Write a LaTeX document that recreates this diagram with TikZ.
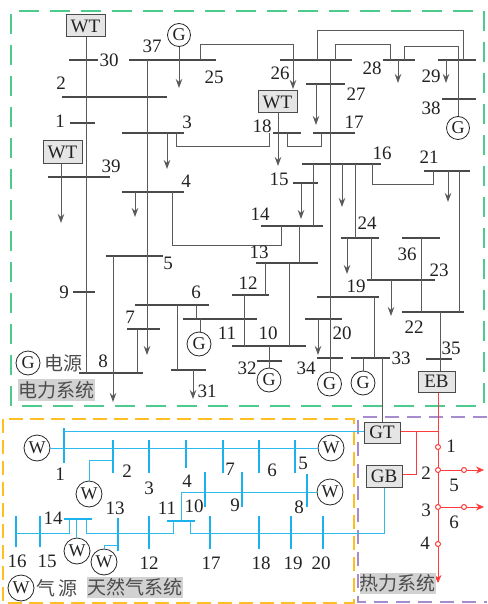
\documentclass[tikz,border=0pt]{standalone}
\usepackage{fontspec}
\setmainfont{Liberation Serif}
\newfontfamily\cjkfont{Noto Sans CJK SC}
\usetikzlibrary{arrows.meta}
\definecolor{linegray}{HTML}{5A5A5A}
\definecolor{busgray}{HTML}{4A4A4A}
\definecolor{txt}{HTML}{222222}
\definecolor{gasblue}{HTML}{1BB2EC}
\definecolor{gasthin}{HTML}{2FBAEE}
\definecolor{heatred}{HTML}{FF3B3B}
\definecolor{frgreen}{HTML}{4CCB8C}
\definecolor{fryellow}{HTML}{FFBE22}
\definecolor{frpurple}{HTML}{A68CCF}
\tikzset{
  conn/.style={draw=linegray,line width=1pt},
  load/.style={conn,-{Stealth[length=9pt,width=6.5pt]}},
  hb/.style={rectangle,fill=busgray,inner sep=0pt,minimum height=2pt},
  vb/.style={rectangle,fill=gasblue,inner sep=0pt,minimum width=2.2pt},
  gasl/.style={draw=gasthin,line width=1pt},
  heat/.style={draw=heatred,line width=1pt},
  heatarr/.style={heat,-{Stealth[length=8pt,width=7pt]}},
  lb/.style={text=txt,font=\fontsize{19}{19}\selectfont,inner sep=0pt},
  unitbox/.style={draw=busgray,fill=gray!20,line width=1pt,inner sep=0pt,text=txt,font=\fontsize{19}{19}\selectfont},
  src/.style={circle,draw=black!85,fill=white,line width=.8pt,inner sep=0pt,text=txt,font=\fontsize{18}{18}\selectfont},
  hn/.style={circle,draw=heatred,fill=white,line width=1pt,inner sep=0pt,minimum size=5pt},
  tag/.style={fill=gray!35,inner sep=0pt,text=black!70,font=\cjkfont\fontsize{19}{19}\selectfont},
  ctxt/.style={inner sep=0pt,text=black!70,font=\cjkfont\fontsize{19}{19}\selectfont},
  frame/.style={line width=2pt},
}
\newcommand{\hbus}[4]{\node[hb,minimum width=#3pt-#2pt] (#1) at ({(#2+#3)/2},#4) {};}
\newcommand{\vbus}[4]{\node[vb,minimum height=#4pt-#3pt] (#1) at (#2,{(#3+#4)/2}) {};}
\newcommand{\tie}[3]{\draw[conn] (#1,0 |- #2) -- (#1,0 |- #3);}
\newcommand{\drop}[3]{\draw[load] (#1,0 |- #2) -- (#1,#3);}
\begin{document}
\begin{tikzpicture}[x=1pt,y=-1pt]
\useasboundingbox (0,0) rectangle (487,604);
% frames
\draw[frame,draw=frgreen,dash pattern=on 20pt off 11pt] (11,406) -- (11,11) -- (484,11) -- (484,406) -- cycle;
\draw[frame,draw=frpurple,dash pattern=on 14pt off 8pt] (487,417) -- (358,417) -- (358,602) -- (487,602);
\draw[frame,draw=fryellow,dash pattern=on 14pt off 7pt] (3,419) rectangle (354,603);
% power buses
\hbus{b30}{69}{98}{60} \hbus{b37}{129}{216}{60} \hbus{b26}{280}{352}{60}
\hbus{b28}{383}{415}{60} \hbus{b29}{438}{476}{60} \hbus{b2}{62}{167}{97}
\hbus{b1}{70}{95}{123} \hbus{b3}{122}{184}{133} \hbus{b39}{48}{110}{177}
\hbus{b4}{122}{184}{192} \hbus{b5}{106}{163}{256} \hbus{b9}{73}{95}{292}
\hbus{b6}{135}{209}{305} \hbus{b31}{171}{206}{370} \hbus{b7}{127}{160}{329}
\hbus{b8}{79}{143}{373} \hbus{b11}{183}{257}{319} \hbus{b12}{232}{269}{295}
\hbus{b10}{232}{306}{346} \hbus{b13}{256}{318}{263} \hbus{b14}{261}{323}{226}
\hbus{b32}{257}{282}{361} \hbus{b19top}{317}{379}{297} \hbus{b19}{367}{435}{280}
\hbus{b20}{305}{342}{319} \hbus{b34}{317}{343}{358} \hbus{b33}{351}{390}{358}
\hbus{b24}{341}{379}{238} \hbus{b16}{302}{381}{164} \hbus{b15}{293}{318}{183}
\hbus{b18}{273}{301}{133} \hbus{b17}{313}{355}{133} \hbus{b27}{306}{345}{84}
\hbus{b38}{442}{476}{99} \hbus{b21}{424}{470}{171} \hbus{b22}{402}{464}{312}
\hbus{b36}{402}{440}{238} \hbus{b35}{426}{452}{359}
% units
\node[unitbox,minimum width=39pt,minimum height=22pt] (wt1) at (85.5,26) {WT};
\node[unitbox,minimum width=39pt,minimum height=22pt] (wt2) at (62.5,152) {WT};
\node[unitbox,minimum width=39pt,minimum height=22pt] (wt3) at (277.5,102) {WT};
\node[unitbox,minimum width=37pt,minimum height=21pt] (eb) at (436.5,381.5) {EB};
\node[unitbox,minimum width=36pt,minimum height=21pt] (gt) at (382,432.5) {GT};
\node[unitbox,minimum width=36pt,minimum height=22pt] (gb) at (384,476) {GB};
\node[src,minimum size=23pt] (g37) at (179,35) {G};
\node[src,minimum size=23pt] (g38) at (458,128) {G};
\node[src,minimum size=24pt] (g11) at (199,344) {G};
\node[src,minimum size=24pt] (g32) at (269,380) {G};
\node[src,minimum size=24pt] (g34) at (329.5,384) {G};
\node[src,minimum size=24pt] (g33) at (363,383) {G};
\node[src,minimum size=24pt] (gleg) at (28,363) {G};
% power connectors
\draw[conn] (86,0 |- wt1.south) -- (86,0 |- b8);
\tie{147}{b37}{b3}
\draw[load] (147,0 |- b3) -- (147,355);
\draw[load] (g37.south) -- (179,88);
\draw[load] (200,0 |- b37) -- (200,45) -- (293,45) -- (293,89);
\drop{167}{b3}{169}
\draw[conn] (176,0 |- b3) -- (176,147) -- (269,147) -- (269,0 |- b18);
\draw[load] (61,0 |- wt2.south) -- (61,223);
\drop{135}{b4}{217}
\draw[conn] (172,0 |- b4) -- (172,245) -- (281,245) -- (281,0 |- b14);
\drop{113}{b5}{402}
\tie{177}{b6}{b31}
\drop{193}{b31}{399}
\tie{137}{b7}{b8}
\tie{196}{b6}{b11}
\draw[conn] (200,0 |- b11) -- (200,0 |- g11.north);
\tie{244}{b12}{b10}
\tie{265}{b13}{b12}
\tie{289}{b13}{b10}
\tie{299}{b14}{b13}
\draw[conn] (269,0 |- b10) -- (g32.north);
\drop{318}{b20}{355}
\draw[conn] (330,0 |- b26) -- (330,0 |- g34.north);
\draw[conn] (363,0 |- b33) -- (g33.north);
\tie{374}{b19top}{b33}
\draw[conn] (382,0 |- b33) -- (382,0 |- gt.north);
\tie{355}{b16}{b24}
\drop{342}{b16}{207}
\tie{313}{b16}{b14}
\drop{301}{b15}{219}
\draw[load] (278,0 |- wt3.south) -- (278,166);
\draw[conn] (287,0 |- b18) -- (287,147) -- (321,147) -- (321,0 |- b17);
\drop{316}{b27}{125}
\drop{398}{b28}{83}
\draw[conn] (335,0 |- b26) -- (335,45) -- (390,45) -- (390,0 |- b28);
\drop{446}{b29}{83}
\draw[conn] (317,0 |- b26) -- (317,31) -- (463,31) -- (463,0 |- b29);
\draw[conn] (404,0 |- b28) -- (404,47) -- (458,47) -- (g38.north);
\draw[conn] (372,0 |- b16) -- (372,184) -- (433,184) -- (433,0 |- b21);
\drop{448}{b21}{202}
\tie{459}{b21}{b22}
\tie{421}{b36}{b22}
\tie{371}{b24}{b19}
\drop{347}{b24}{274}
\drop{391}{b19}{316}
\draw[conn] (440,0 |- b22) -- (440,0 |- eb.north);
% power labels
\node[lb] (p30) at (109,60) {30}; \node[lb] (p37) at (152,46) {37};
\node[lb] (p25) at (214,77) {25}; \node[lb] (p26) at (280,73) {26};
\node[lb] (p2) at (61,83) {2}; \node[lb] (p1) at (60,121) {1};
\node[lb] (p3) at (187,122) {3}; \node[lb] (p39) at (111,166) {39};
\node[lb] (p4) at (186,181) {4}; \node[lb] (p5) at (168,263) {5};
\node[lb] (p9) at (64,292) {9}; \node[lb] (p6) at (196,292) {6};
\node[lb] (p31) at (207,391) {31}; \node[lb] (p7) at (130,317) {7};
\node[lb] (p8) at (103,361) {8}; \node[lb] (p11) at (227,333) {11};
\node[lb] (p12) at (248,283) {12}; \node[lb] (p10) at (268,333) {10};
\node[lb] (p13) at (259,252) {13}; \node[lb] (p14) at (260,214) {14};
\node[lb] (p32) at (247,368) {32}; \node[lb] (p19) at (356,286) {19};
\node[lb] (p23) at (439,270) {23}; \node[lb] (p20) at (342,333) {20};
\node[lb] (p34) at (306,368) {34}; \node[lb] (p33) at (401,358) {33};
\node[lb] (p24) at (367,223) {24}; \node[lb] (p16) at (382,153) {16};
\node[lb] (p15) at (279,179) {15}; \node[lb] (p18) at (262,126) {18};
\node[lb] (p17) at (354,122) {17}; \node[lb] (p27) at (356,94) {27};
\node[lb] (p28) at (372,68) {28}; \node[lb] (p29) at (431,76) {29};
\node[lb] (p38) at (431,108) {38}; \node[lb] (p21) at (429,157) {21};
\node[lb] (p22) at (414,327) {22}; \node[lb] (p36) at (407,254) {36};
\node[lb] (p35) at (451,348) {35};
\node[ctxt] (t1) at (63,363) {电源};
\node[tag,minimum width=77pt,minimum height=22pt] (t2) at (56.5,390) {电力系统};
% gas buses
\vbus{g1}{64}{428}{463} \vbus{g2}{113}{440}{473} \vbus{g3}{149}{440}{473}
\vbus{g4}{186}{440}{468} \vbus{g7}{223}{440}{473} \vbus{g6}{259}{440}{473}
\vbus{g5}{295}{440}{473} \vbus{g10}{205}{472}{507} \vbus{g9}{242}{472}{507}
\vbus{g8}{307}{474}{507} \vbus{g13}{118}{518}{551} \vbus{g12}{149}{516}{549}
\vbus{g16}{16}{516}{547} \vbus{g15}{40}{516}{547} \vbus{g17}{210}{516}{549}
\vbus{g18}{259}{516}{549} \vbus{g19}{291}{516}{549} \vbus{g20}{323}{516}{549}
\node[hb,fill=gasblue,minimum width=28pt] (g14) at (78,519) {};
\node[hb,fill=gasblue,minimum width=28pt] (g11b) at (181,521) {};
% gas sources
\node[src,minimum size=26pt] (w1) at (37,448) {W};
\node[src,minimum size=26pt] (w2) at (89,494) {W};
\node[src,minimum size=26pt] (w3) at (331,448) {W};
\node[src,minimum size=26pt] (w4) at (330,492) {W};
\node[src,minimum size=26pt] (w5) at (77,551) {W};
\node[src,minimum size=26pt] (w6) at (104,562) {W};
\node[src,minimum size=26pt] (wleg) at (21,588) {W};
% gas connectors
\draw[gasl] (64,431) -- (gt.west |- 0,431);
\draw[gasl] (w1.east) -- (w3.west);
\draw[gasl] (w2.north) -- (89,460) -- (g2.center |- 0,460);
\draw[gasl] (181,0 |- g11b) -- (181,492) -- (w4.west);
\draw[gasl] (g16.center |- 0,533) -- (69,533) -- (69,0 |- g14);
\draw[gasl] (76,0 |- g14) -- (76,0 |- w5.north);
\draw[gasl] (86,0 |- g14) -- (86,533) -- (173,533) -- (173,0 |- g11b);
\draw[gasl] (190,0 |- g11b) -- (190,533) -- (384,533) -- (384,0 |- gb.south);
\draw[gasl] (w6.north) -- (104,545) -- (g13.center |- 0,545);
% gas labels
\node[lb] (n1) at (60,474) {1}; \node[lb] (n2) at (127,471) {2};
\node[lb] (n3) at (149,488) {3}; \node[lb] (n4) at (187,481) {4};
\node[lb] (n7) at (230,469) {7}; \node[lb] (n6) at (272,470) {6};
\node[lb] (n5) at (303,463) {5}; \node[lb] (n10) at (194,506) {10};
\node[lb] (n9) at (235,505) {9}; \node[lb] (n8) at (299,507) {8};
\node[lb] (n11) at (167,508) {11}; \node[lb] (n14) at (53,518) {14};
\node[lb] (n13) at (115,508) {13}; \node[lb] (n12) at (149,563) {12};
\node[lb] (n16) at (17,561) {16}; \node[lb] (n15) at (47,561) {15};
\node[lb] (n17) at (211,563) {17}; \node[lb] (n18) at (261,563) {18};
\node[lb] (n19) at (293,563) {19}; \node[lb] (n20) at (321,563) {20};
\node[ctxt] (t3) at (57,588) {气\,源};
\node[tag,minimum width=96pt,minimum height=21pt] (t4) at (135,587.5) {天然气系统};
% heat network
\coordinate (hend) at (438,583);
\coordinate (he5) at (484,470);
\coordinate (he6) at (484,507);
\draw[heat] (438,0 |- eb.south) -- (438,431);
\draw[heatarr] (438,431) -- (hend);
\draw[heat] (gt.east |- 0,431) -- (438,431);
\draw[heat] (gb.east |- 0,474) -- (416,474) -- (416,431);
\draw[heatarr] (438,470) -- (he5);
\draw[heatarr] (438,507) -- (he6);
\node[hn] (h1) at (438,447) {};
\node[hn] (h2) at (438,470) {};
\node[hn] (h3) at (438,507) {};
\node[hn] (h4) at (438,544) {};
\node[hn] (h5) at (464,470) {};
\node[hn] (h6) at (464,507) {};
\node[lb] (q1) at (451,446) {1}; \node[lb] (q2) at (426,473) {2};
\node[lb] (q5) at (454,485) {5}; \node[lb] (q3) at (426,510) {3};
\node[lb] (q6) at (454,522) {6}; \node[lb] (q4) at (425,543) {4};
\node[tag,minimum width=71pt,minimum height=21pt] (t5) at (397.5,583.5) {热力系统};
\end{tikzpicture}
\end{document}
